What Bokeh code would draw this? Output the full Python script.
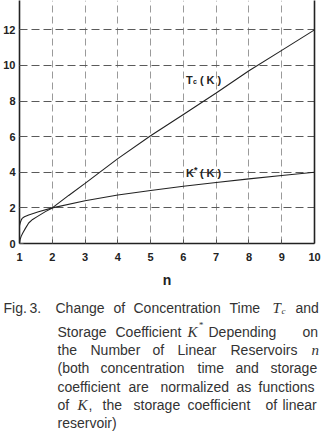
from bokeh.plotting import figure
from bokeh.models import Range1d, SingleIntervalTicker, LinearAxis, FixedTicker, Label, ColumnDataSource
from bokeh.layouts import column
from bokeh.embed import file_html
from bokeh.resources import INLINE
from bokeh.core.properties import value

# ---- data ----
n_tc = [1.0, 1.02, 1.05, 1.1, 1.18, 1.28, 1.4, 1.54, 1.79, 2.0, 2.5, 3.0, 4.0, 5.0, 6.0, 7.0, 8.0, 9.0, 10.0]
tc = [0.0, 0.23, 0.4, 0.59, 0.85, 1.15, 1.35, 1.51, 1.79, 2.0, 2.7, 3.38, 4.77, 6.05, 7.25, 8.45, 9.7, 10.85, 12.0]

n_ks = [1.0, 1.02, 1.05, 1.08, 1.15, 1.28, 1.58, 2.0, 3.0, 4.0, 5.0, 6.0, 7.0, 8.0, 9.0, 10.0]
ks = [1.0, 1.15, 1.3, 1.41, 1.5, 1.6, 1.78, 2.0, 2.4, 2.72, 2.98, 3.22, 3.43, 3.63, 3.82, 4.0]

x_label = "n"

# caption layout (pixel positions in the page)
line_base = [307, 331, 349, 367, 386, 404, 422]
cap_words = ["Fig.", "3.", "Change", "of", "Concentration", "Time", "and",
             "Storage", "Coefficient", "Depending", "on",
             "the", "Number", "of", "Linear", "Reservoirs",
             "(both", "concentration", "time", "and", "storage",
             "coefficient", "are", "normalized", "as", "functions",
             "of", ",", "the", "storage", "coefficient", "of", "linear",
             "reservoir)"]
cap_x = [3, 29, 55, 113, 133, 229, 295,
         57, 115, 208, 302,
         57, 90, 152, 177, 230,
         57, 100, 197, 235, 270,
         57, 128, 160, 236, 258,
         57, 88, 102, 133, 187, 265, 282,
         57]
cap_line = [0] * 7 + [1] * 4 + [2] * 5 + [3] * 5 + [4] * 5 + [5] * 7 + [6]

math_text = ["T", "c", "K", "*", "n", "K"]
math_x = [272, 281, 187, 198, 311, 77]
math_y = [307, 310, 331, 324, 349, 404]
math_size = ["15px", "9px", "15px", "9px", "15px", "15px"]

# ---- plot ----
X0, X1, Y0, Y1 = 1, 10, 0, 13.65
W, H = 322, 290
BL, BR, BT, BB = 18, 8, 0, 43
fw, fh = W - BL - BR, H - BT - BB


def px2x(px):
    return X0 + (px - BL) / fw * (X1 - X0)


def py2y(py):
    return Y0 + (BT + fh - py) / fh * (Y1 - Y0)


p = figure(width=W, height=H, x_range=Range1d(X0, X1), y_range=Range1d(Y0, Y1),
           output_backend="svg", toolbar_location=None, frame_align=False,
           min_border_left=BL, min_border_right=BR, min_border_top=BT, min_border_bottom=BB)
p.outline_line_color = None
p.background_fill_color = "white"
p.border_fill_color = "white"

p.xaxis.ticker = SingleIntervalTicker(interval=1)
p.yaxis.ticker = SingleIntervalTicker(interval=2)
p.xgrid.ticker = SingleIntervalTicker(interval=1)
p.ygrid.ticker = SingleIntervalTicker(interval=2)

for ax in (p.xaxis[0], p.yaxis[0]):
    ax.axis_line_color = "#222222"
    ax.axis_line_width = 1.6
    ax.major_tick_in = 4
    ax.major_tick_out = 0
    ax.minor_tick_line_color = None
    ax.major_tick_line_color = "#555555"
    ax.major_label_text_font = "Liberation Sans"
    ax.major_label_text_font_style = "bold"
    ax.major_label_text_font_size = "11px"
    ax.major_label_text_color = "#222222"

p.yaxis.major_label_standoff = 0
p.xaxis.major_label_standoff = 5
p.xaxis.axis_label = x_label
p.xaxis.axis_label_text_font = "Liberation Sans"
p.xaxis.axis_label_text_font_style = "bold"
p.xaxis.axis_label_text_font_size = "14px"
p.xaxis.axis_label_text_color = "#222222"
p.xaxis.axis_label_standoff = 8

ra = LinearAxis(ticker=FixedTicker(ticks=[]), axis_line_color="#222222", axis_line_width=1.6,
                major_tick_in=0, major_tick_out=0, minor_tick_in=0, minor_tick_out=0,
                major_label_standoff=0, major_label_text_font_size="0px")
p.add_layout(ra, "right")

p.xgrid.grid_line_color = "#9a9a9a"
p.xgrid.grid_line_dash = "7 4"
p.xgrid.grid_line_width = 1
p.ygrid.grid_line_color = "#5a5a5a"
p.ygrid.grid_line_dash = "8 4"
p.ygrid.grid_line_width = 1

p.line(n_tc, tc, line_color="#222222", line_width=1.1)
p.line(n_ks, ks, line_color="#222222", line_width=1.1)


def lab(text, px, py, size):
    p.add_layout(Label(x=px2x(px), y=py2y(py), text=text, text_font="Liberation Sans",
                       text_font_style="bold", text_font_size=size, text_color="#222222",
                       text_baseline="alphabetic"))


lab("T", 185, 81, "11px")
lab("c", 192, 82, "7px")
lab("( K )", 199, 81, "11px")
lab("K", 185, 175, "11px")
lab("*", 193, 172, "9px")
lab("( K )", 199, 175, "11px")

# ---- caption: its own full-width frame, not aligned to the plot frame ----
cap = figure(width=W, height=442 - H, x_range=Range1d(0, W), y_range=Range1d(442, H),
             output_backend="svg", toolbar_location=None, frame_align=False,
             min_border_left=0, min_border_right=0, min_border_top=0, min_border_bottom=0,
             x_axis_location=None, y_axis_location=None)
cap.outline_line_color = None
cap.grid.visible = False
cap.background_fill_color = "white"
cap.border_fill_color = "white"

src = ColumnDataSource(dict(x=cap_x, y=[line_base[i] for i in cap_line], text=cap_words))
cap.text(x="x", y="y", text="text", source=src, text_font=value("Liberation Sans"),
         text_font_size="14px", text_color="#333333", text_baseline="alphabetic", text_align="left")

msrc = ColumnDataSource(dict(x=math_x, y=math_y, text=math_text, size=math_size))
cap.text(x="x", y="y", text="text", source=msrc, text_font=value("Liberation Serif"),
         text_font_style="italic", text_font_size="size", text_color="#333333",
         text_baseline="alphabetic", text_align="left")

layout = column(p, cap, spacing=0)
open("out.html", "w").write(file_html(layout, INLINE))
